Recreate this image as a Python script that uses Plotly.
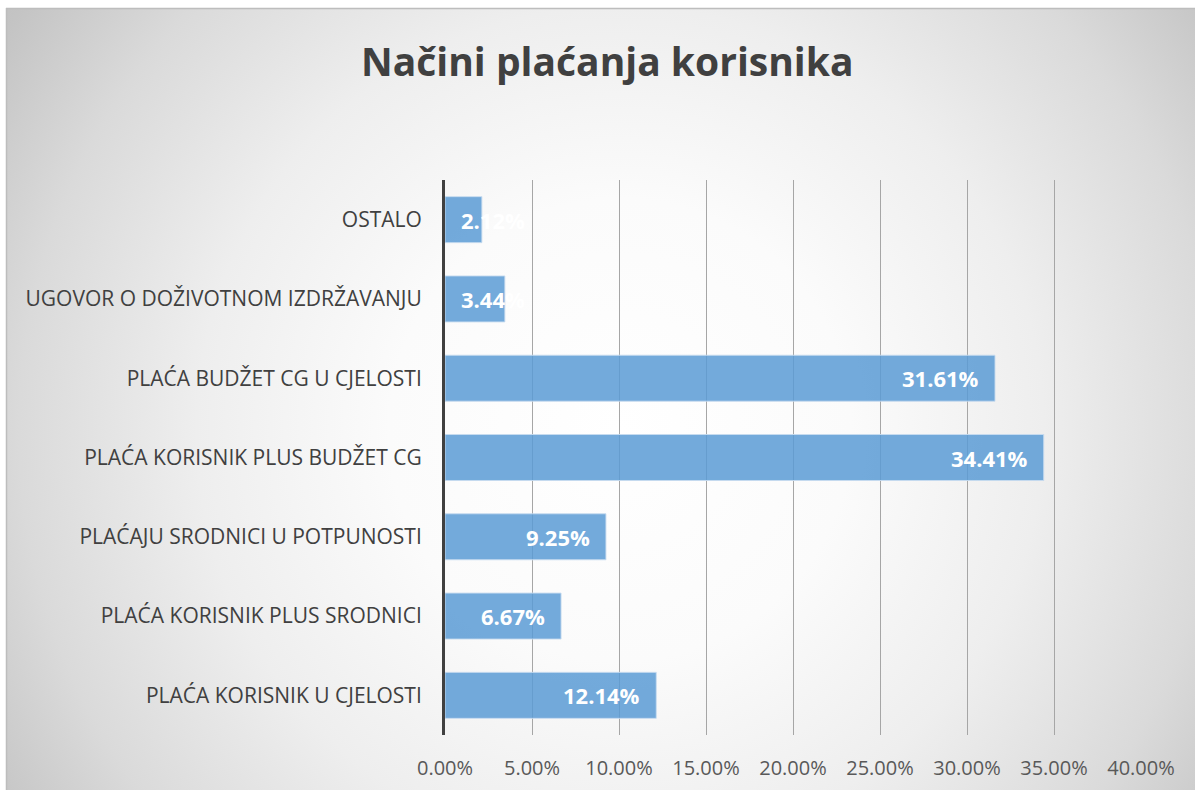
import plotly.graph_objects as go
import urllib.parse

categories = [
    "PLAĆA KORISNIK U CJELOSTI",
    "PLAĆA KORISNIK PLUS SRODNICI",
    "PLAĆAJU SRODNICI U POTPUNOSTI",
    "PLAĆA KORISNIK PLUS BUDŽET CG",
    "PLAĆA BUDŽET CG U CJELOSTI",
    "UGOVOR O DOŽIVOTNOM IZDRŽAVANJU",
    "OSTALO",
]
values = [12.14, 6.67, 9.25, 34.41, 31.61, 3.44, 2.12]
tick_vals = [0, 5, 10, 15, 20, 25, 30, 35, 40]
tick_text = ["0.00%", "5.00%", "10.00%", "15.00%", "20.00%", "25.00%", "30.00%", "35.00%", "40.00%"]
title_text = "Načini plaćanja korisnika"

W, H = 1195, 790
L, R, T, B = 445, 54, 180, 55
PW, PH = W - L - R, H - T - B

svg = f'''<svg xmlns="http://www.w3.org/2000/svg" width="{W}" height="{H}" viewBox="0 0 {W} {H}" preserveAspectRatio="none">
<defs><radialGradient id="g" gradientUnits="userSpaceOnUse" cx="620" cy="430" r="770">
<stop offset="0" stop-color="#ffffff"/>
<stop offset="0.3" stop-color="#fbfbfb"/>
<stop offset="0.55" stop-color="#eeeeee"/>
<stop offset="0.78" stop-color="#dadada"/>
<stop offset="0.95" stop-color="#c4c4c4"/>
<stop offset="1" stop-color="#c0c0c0"/>
</radialGradient></defs>
<rect x="0" y="0" width="{W}" height="{H}" fill="#ffffff"/>
<rect x="6" y="8" width="{W-6}" height="{H-8}" fill="url(#g)"/>
<line x1="6" y1="8.5" x2="{W}" y2="8.5" stroke="#bdbdbd" stroke-width="1.5"/>
<line x1="6.5" y1="8" x2="6.5" y2="{H}" stroke="#bdbdbd" stroke-width="1.5"/>
</svg>'''
bg_uri = "data:image/svg+xml;charset=utf-8," + urllib.parse.quote(svg)

fig = go.Figure()
fig.add_trace(go.Bar(
    x=values, y=categories, orientation="h",
    marker=dict(color="rgba(91,155,213,0.85)", line=dict(color="rgba(200,220,240,0.9)", width=1)),
    hoverinfo="skip",
))

annotations = []
for cat, v in zip(categories, values):
    small = v < 5
    annotations.append(dict(
        x=0 if small else v, y=cat, xref="x", yref="y",
        text=f"<b>{v:.2f}%</b>", showarrow=False,
        xanchor="left" if small else "right",
        xshift=14 if small else -14,
        font=dict(family="Open Sans", size=22, color="white"),
    ))

annotations.append(dict(
    x=(607 - L) / PW, y=1 + (T - 60) / PH, xref="paper", yref="paper",
    text=f"<b>{title_text}</b>", showarrow=False, xanchor="center", yanchor="middle",
    font=dict(family="Open Sans", size=39, color="#404040"),
))

fig.update_layout(
    width=W, height=H, autosize=False,
    margin=dict(l=L, r=R, t=T, b=B, pad=0),
    paper_bgcolor="white", plot_bgcolor="rgba(0,0,0,0)",
    showlegend=False, bargap=0.42,
    annotations=annotations,
    images=[dict(
        source=bg_uri, xref="paper", yref="paper",
        x=-L / PW, y=1 + T / PH, sizex=W / PW, sizey=H / PH,
        xanchor="left", yanchor="top", sizing="stretch", layer="below",
    )],
    xaxis=dict(
        range=[0, 40], tickvals=tick_vals, ticktext=tick_text,
        showgrid=True, gridcolor="#a6a6a6", gridwidth=1, zeroline=False,
        ticks="outside", ticklen=15, tickcolor="rgba(0,0,0,0)",
        tickfont=dict(family="Open Sans", size=20, color="#595959"),
        showline=False, fixedrange=True, automargin=False,
    ),
    yaxis=dict(
        categoryorder="array", categoryarray=categories,
        showline=True, linecolor="#404040", linewidth=3,
        ticks="outside", ticklen=16, tickcolor="rgba(0,0,0,0)",
        tickfont=dict(family="Open Sans", size=21, color="#404040"),
        showgrid=False, zeroline=False, fixedrange=True, automargin=False,
    ),
)

fig.write_html(
    "out.html",
    config={"displayModeBar": False, "responsive": False, "staticPlot": True},
    post_script="document.body.style.margin='0';document.body.style.overflow='hidden';",
)
